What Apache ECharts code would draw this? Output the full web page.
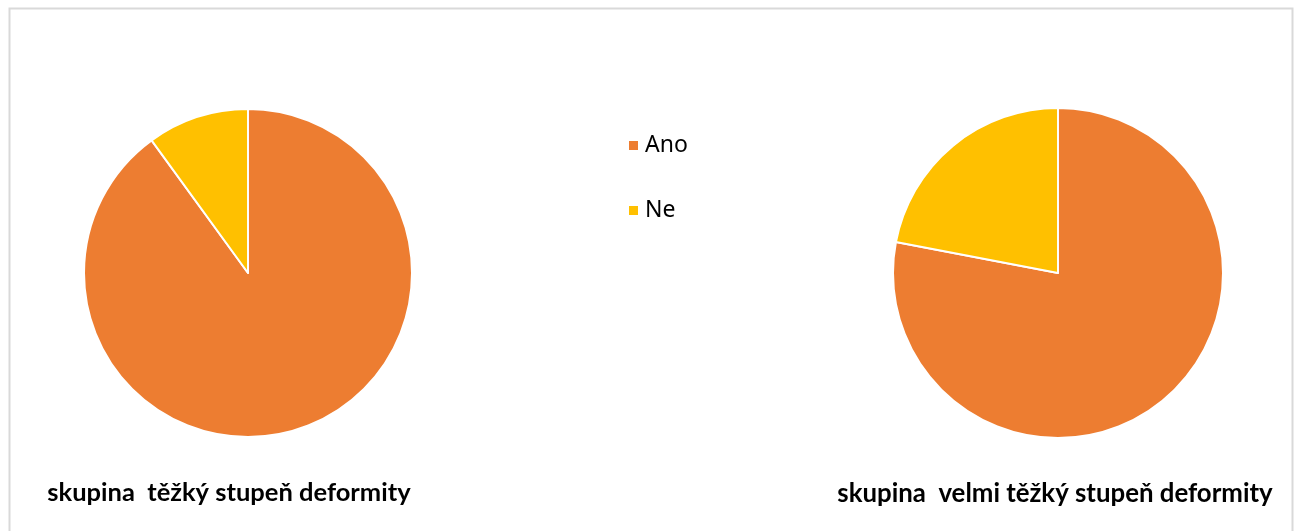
<!DOCTYPE html>
<html>
<head>
<meta charset="utf-8">
<script src="https://cdn.jsdelivr.net/npm/echarts@6/dist/echarts.min.js"></script>
<style>html,body{margin:0;padding:0;background:#fff}#c{width:1300px;height:531px}</style>
</head>
<body>
<div id="c"></div>
<script>
var categories = ['Ano', 'Ne'];
var leftValues = [90, 10];
var rightValues = [78, 22];
var leftTitle = 'skupina  těžký stupeň deformity';
var rightTitle = 'skupina  velmi těžký stupeň deformity';
var colors = ['#ED7D31', '#FFC000'];

function toData(vals) {
  return categories.map(function (c, i) { return { name: c, value: vals[i] }; });
}

var chart = echarts.init(document.getElementById('c'));
chart.setOption({
  animation: false,
  color: colors,
  graphic: [{
    type: 'rect', shape: { x: 9.5, y: 8.5, width: 1283, height: 540 },
    style: { fill: 'none', stroke: '#d9d9d9', lineWidth: 2 }, silent: true
  }],
  title: [
    { text: leftTitle, left: 224, top: 475, textAlign: 'center',
      textStyle: { fontFamily: 'Lato', fontWeight: 'bold', fontSize: 25.5, color: '#000' } },
    { text: rightTitle, left: 1050, top: 476, textAlign: 'center',
      textStyle: { fontFamily: 'Lato', fontWeight: 'bold', fontSize: 25.8, color: '#000' } }
  ],
  legend: {
    orient: 'vertical', left: 622, top: 128.5,
    itemWidth: 11, itemHeight: 11, itemGap: 41, icon: 'rect',
    textStyle: { fontFamily: 'Noto Sans', fontSize: 23, color: '#000', lineHeight: 24, padding: [0, 0, 0, 1] },
    data: categories
  },
  series: [
    { type: 'pie', center: [248, 273], radius: 164, startAngle: 90, clockwise: true,
      label: { show: false }, labelLine: { show: false },
      itemStyle: { borderColor: '#fff', borderWidth: 2 },
      data: toData(leftValues) },
    { type: 'pie', center: [1058, 273], radius: 165, startAngle: 90, clockwise: true,
      label: { show: false }, labelLine: { show: false },
      itemStyle: { borderColor: '#fff', borderWidth: 2 },
      data: toData(rightValues) }
  ]
});
</script>
</body>
</html>
